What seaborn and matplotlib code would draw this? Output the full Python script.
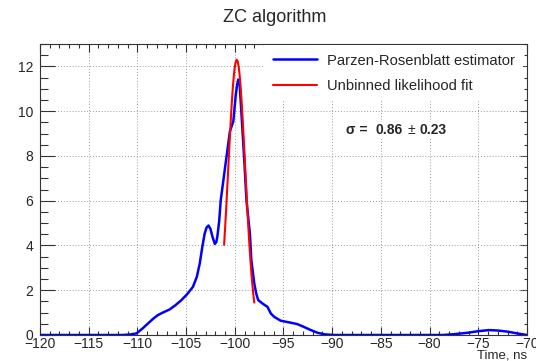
import numpy as np
import pandas as pd
import matplotlib
matplotlib.use("Agg")
import matplotlib.pyplot as plt
import seaborn as sns
from matplotlib.ticker import MultipleLocator

# ---- data ----
blue_x = [-120, -111.6, -110.8, -110.1, -109.5, -108.9, -108.4, -107.9, -107.3, -106.7,
          -106.1, -105.5, -104.9, -104.3, -103.9, -103.6, -103.35, -103.1, -102.9, -102.7,
          -102.5, -102.3, -102.05, -101.9, -101.8, -101.6, -101.45, -101.0, -100.5, -100.15,
          -99.9, -99.75, -99.65, -99.5, -99.25, -99.0, -98.8, -98.45, -98.3, -98.0,
          -97.8, -97.6, -97.2, -96.9, -96.65, -96.3, -95.95, -95.3, -94.5, -93.6,
          -92.9, -92.2, -91.5, -90.8, -89.8, -85.0, -80.0, -78.6, -77.4, -76.1,
          -75.0, -73.9, -73.0, -72.0, -71.0, -70.0]
blue_y = [0.0, 0.0, 0.02, 0.07, 0.28, 0.52, 0.72, 0.89, 1.02, 1.14,
          1.33, 1.55, 1.82, 2.15, 2.6, 3.19, 3.9, 4.52, 4.8, 4.89,
          4.74, 4.4, 4.07, 4.15, 4.37, 5.1, 6.0, 7.48, 9.1, 9.55,
          10.74, 11.2, 11.41, 11.19, 9.41, 7.6, 6.0, 4.52, 3.33, 2.3,
          1.85, 1.56, 1.42, 1.33, 1.26, 0.96, 0.81, 0.64, 0.57, 0.49,
          0.36, 0.22, 0.1, 0.03, 0.0, 0.0, 0.0, 0.0, 0.04, 0.1,
          0.17, 0.22, 0.2, 0.15, 0.07, 0.0]

red_x = [-101.1, -101.0, -100.9, -100.8, -100.7, -100.6, -100.5, -100.4, -100.3, -100.2,
         -100.1, -100.0, -99.9, -99.8, -99.7, -99.6, -99.5, -99.4, -99.3, -99.2,
         -99.1, -99.0, -98.9, -98.8, -98.7, -98.6, -98.5, -98.4, -98.3, -98.2,
         -98.1, -98.0]
red_y = [4.03, 4.75, 5.53, 6.36, 7.2, 8.06, 8.9, 9.7, 10.43, 11.07,
         11.59, 11.98, 12.22, 12.3, 12.22, 11.98, 11.59, 11.07, 10.43, 9.7,
         8.9, 8.06, 7.2, 6.36, 5.53, 4.75, 4.03, 3.37, 2.78, 2.27,
         1.82, 1.45]

series_labels = ["Parzen-Rosenblatt estimator", "Unbinned likelihood fit"]
title_text = "ZC algorithm"
xlabel_text = "Time, ns"
sigma_value = "0.86"
sigma_error = "0.23"

# ---- style ----
sns.set_style("white")
plt.rcParams["font.family"] = ["Liberation Sans", "DejaVu Sans"]
plt.rcParams["axes.unicode_minus"] = True

fig = plt.figure(figsize=(5.36, 3.61), dpi=100)
ax = fig.add_axes([40 / 536, 26 / 361, 487 / 536, 291 / 361])

df_blue = pd.DataFrame({"t": blue_x, "v": blue_y})
df_red = pd.DataFrame({"t": red_x, "v": red_y})
sns.lineplot(data=df_blue, x="t", y="v", ax=ax, color="#0000ff", linewidth=1.8,
             sort=False, estimator=None, label=series_labels[0], zorder=3)
sns.lineplot(data=df_red, x="t", y="v", ax=ax, color="#ff0000", linewidth=1.5,
             sort=False, estimator=None, label=series_labels[1], zorder=4)

ax.set_xlim(-120, -70)
ax.set_ylim(0, 13)
ax.xaxis.set_major_locator(MultipleLocator(5))
ax.xaxis.set_minor_locator(MultipleLocator(1))
ax.yaxis.set_major_locator(MultipleLocator(2))
ax.yaxis.set_minor_locator(MultipleLocator(0.5))

ax.grid(True, which="major", linestyle=(0, (1, 2)), color="#9a9a9a", linewidth=0.7, zorder=0)
ax.set_axisbelow(True)

for s in ax.spines.values():
    s.set_color("#333333")
    s.set_linewidth(0.8)

ax.tick_params(axis="x", which="major", direction="in", length=5.8, width=0.8,
               top=True, bottom=True, labelsize=10, pad=1.5, color="#333333")
ax.tick_params(axis="x", which="minor", direction="in", length=2.8, width=0.8,
               top=True, bottom=True, color="#333333")
ax.tick_params(axis="y", which="major", direction="in", length=10.5, width=0.8,
               left=True, right=False, labelsize=10, pad=5, color="#333333")
ax.tick_params(axis="y", which="minor", direction="in", length=5.6, width=0.8,
               left=True, right=False, color="#333333")

sec = ax.secondary_yaxis("right")
sec.yaxis.set_major_locator(MultipleLocator(2))
sec.yaxis.set_minor_locator(MultipleLocator(0.5))
sec.tick_params(which="major", direction="in", length=5, width=0.8, labelright=False, color="#333333")
sec.tick_params(which="minor", direction="in", length=2.5, width=0.8, color="#333333")
sec.spines["right"].set_visible(False)

ax.set_xlabel("")
ax.set_ylabel("")
fig.text(527 / 536, 1 - 355 / 361, xlabel_text, ha="right", va="center", fontsize=9.5)

leg = ax.legend(loc="upper left", bbox_to_anchor=((263 - 40) / 487, 1.0),
                frameon=True, edgecolor="none", facecolor="white", framealpha=1,
                fancybox=False, handlelength=3.0, handletextpad=0.7,
                labelspacing=0.8, borderpad=0.55, borderaxespad=0.1, fontsize=10.6)
leg.set_zorder(5)

fig.text(275 / 536, 1 - 18 / 361, title_text, ha="center", va="center", fontsize=13)

ty = (335 - 130) / 291
bb = dict(facecolor="white", edgecolor="none", pad=1)
ax.text((346 - 40) / 487, ty, "σ =", transform=ax.transAxes, fontsize=10,
        fontweight="bold", va="center", ha="left", bbox=bb, zorder=6)
ax.text((375 - 40) / 487, ty, sigma_value, transform=ax.transAxes, fontsize=10,
        fontweight="bold", va="center", ha="left", bbox=bb, zorder=6)
ax.text((408 - 40) / 487, ty, "±", transform=ax.transAxes, fontsize=10,
        va="center", ha="left", bbox=bb, zorder=6)
ax.text((419 - 40) / 487, ty, sigma_error, transform=ax.transAxes, fontsize=10,
        fontweight="bold", va="center", ha="left", bbox=bb, zorder=6)

fig.savefig("out.png", dpi=100)
